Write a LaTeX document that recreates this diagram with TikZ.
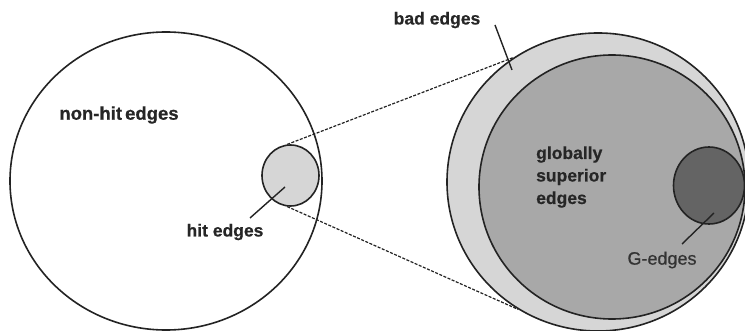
\documentclass[tikz,border=0pt]{standalone}
\usepackage{fontspec}
\setmainfont{Liberation Sans}[FakeBold=0.6]
\usetikzlibrary{shapes.geometric}
\definecolor{lightg}{RGB}{214,214,214}
\definecolor{midg}{RGB}{168,168,168}
\definecolor{darkg}{RGB}{100,100,100}
\definecolor{edgec}{RGB}{35,35,35}
\tikzset{
  setshape/.style={ellipse, draw=edgec, line width=1.6pt, inner sep=0pt},
  lbl/.style={font=\fontsize{17.5}{22.5}\selectfont\bfseries, text=black!85, inner sep=0pt},
  pointer/.style={draw=edgec, line width=1.4pt},
  zoomline/.style={draw=edgec, line width=1.2pt, dashed, dash pattern=on 3pt off 1.5pt},
}
\begin{document}
\begin{tikzpicture}[x=1pt,y=-1pt]
\useasboundingbox (0,0) rectangle (745,331);
\clip (0,0) rectangle (745,331);
% left part
\node[setshape, fill=white, minimum width=312pt, minimum height=298pt] (all) at (166,181) {};
\node[setshape, fill=lightg, minimum width=57pt, minimum height=61pt] (hit) at (290.5,175.5) {};
% right part
\node[setshape, fill=lightg, minimum width=302pt, minimum height=298pt] (bad) at (598,182) {};
\node[setshape, fill=midg, minimum width=266pt, minimum height=264pt] (sup) at (612,187) {};
\node[setshape, fill=darkg, minimum width=71pt, minimum height=77pt] (G) at (709,185.5) {};
% zoom lines
\draw[zoomline] (hit.96) -- (bad.124);
\draw[zoomline] (hit.264) -- (bad.238);
% labels
\node[lbl, font=\fontsize{18.5}{22.5}\selectfont\bfseries] (nonhit) at (119,115) {non-hit\,edges};
\node[lbl] (hitl) at (225,232) {hit edges};
\node[lbl] (badl) at (437,20) {bad edges};
\node[lbl, align=left, anchor=west] (supl) at (536,177) {globally\\superior\\edges};
\node[lbl, font=\fontsize{18}{22.5}\selectfont, text=black!80] (Gl) at (662,260) {G-edges};
% pointers
\coordinate (hits) at (250,218);
\coordinate (hitp) at (285,187);
\coordinate (bads) at (495,25);
\coordinate (badp) at (512,70);
\coordinate (Gs) at (682,244);
\coordinate (Gp) at (714,213);
\draw[pointer] (hits) -- (hitp);
\draw[pointer] (bads) -- (badp);
\draw[pointer] (Gs) -- (Gp);
\end{tikzpicture}
\end{document}
